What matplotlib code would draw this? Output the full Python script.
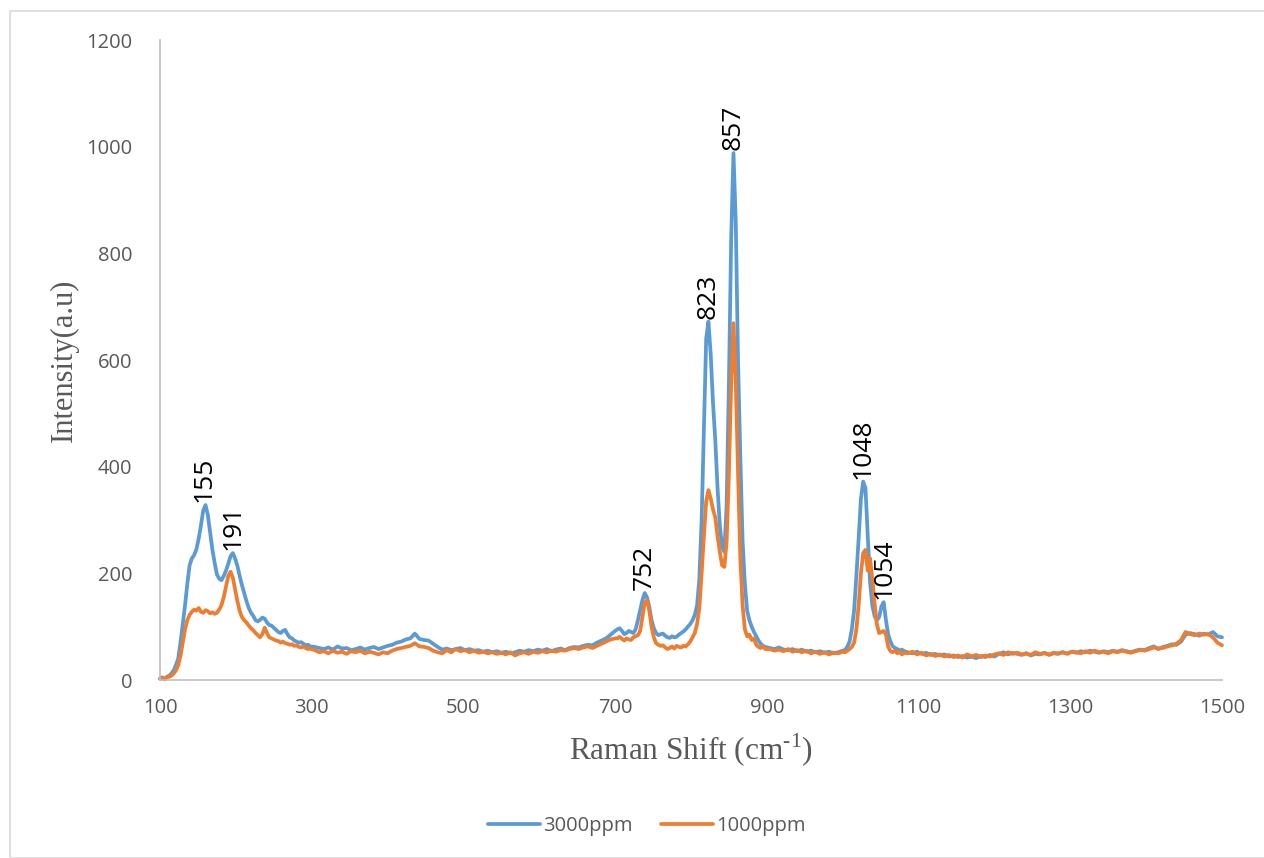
import numpy as np
import matplotlib
matplotlib.use("Agg")
import matplotlib.pyplot as plt
from matplotlib.patches import Rectangle

plt.rcParams["mathtext.fontset"] = "custom"
plt.rcParams["mathtext.rm"] = "Liberation Serif"

# Raman spectra of the two concentrations
# sampling grid: finer steps around the bands, coarser on the flat baseline
raman_shift = (list(range(100, 300, 3)) + list(range(304, 701, 6))
               + list(range(703, 899, 3)) + list(range(904, 1001, 6))
               + list(range(1003, 1082, 3)) + list(range(1086, 1501, 6)))

int_3000 = [
    # 100 - 298
    3, 5, 2, 6, 8, 12, 18, 28, 40, 70, 105, 140, 180, 215, 228, 234, 245, 265, 290, 318,
    328, 310, 278, 245, 220, 198, 190, 187, 195, 205, 218, 232, 238, 228, 214, 195, 178, 163, 148, 135,
    126, 120, 112, 110, 113, 117, 115, 108, 103, 102, 98, 94, 90, 88, 92, 94, 86, 80, 78, 74,
    72, 70, 71, 68, 65, 66, 63,
    # 304 - 700
    62, 60, 58, 61, 57, 63, 59, 60, 56, 58, 61, 57, 60, 62, 58, 61, 64, 66, 70, 72,
    76, 78, 87, 77, 75, 74, 68, 62, 57, 59, 56, 58, 60, 56, 58, 55, 56, 53, 55, 52,
    54, 51, 53, 50, 52, 55, 53, 56, 54, 57, 55, 58, 54, 57, 59, 56, 60, 62, 61, 64,
    66, 65, 70, 74, 78, 85, 92,
    # 703 - 898
    95, 97, 92, 86, 88, 92, 90, 88, 95, 112, 131, 150, 163, 155, 137, 112, 97, 88, 84, 86,
    87, 83, 80, 79, 82, 80, 81, 85, 88, 91, 95, 100, 105, 112, 122, 140, 190, 300, 470, 640,
    672, 610, 520, 450, 360, 290, 250, 240, 330, 560, 830, 988, 860, 600, 420, 260, 180, 130, 112, 100,
    90, 82, 74, 68, 64, 62,
    # 904 - 1000
    60, 58, 61, 57, 56, 58, 54, 57, 53, 55, 52, 54, 51, 53, 50, 52, 55,
    # 1003 - 1081
    56, 62, 72, 95, 130, 195, 265, 340, 372, 360, 270, 185, 140, 120, 112, 118, 138, 146, 112, 85,
    72, 63, 60, 58, 55, 57, 54,
    # 1086 - 1500
    52, 50, 53, 49, 51, 47, 49, 46, 48, 44, 46, 43, 45, 42, 44, 41, 45, 43, 47, 44,
    49, 52, 48, 51, 49, 47, 50, 46, 49, 48, 51, 47, 50, 49, 52, 50, 53, 51, 54, 52,
    55, 53, 51, 54, 52, 55, 53, 56, 54, 52, 55, 57, 56, 60, 63, 58, 62, 64, 67, 66,
    72, 85, 88, 86, 83, 87, 85, 90, 82, 80,
]

int_1000 = [
    # 100 - 298
    2, 4, 1, 5, 6, 8, 12, 18, 28, 45, 70, 95, 112, 122, 128, 132, 130, 135, 128, 126,
    131, 129, 125, 127, 124, 126, 132, 140, 155, 175, 195, 203, 192, 170, 148, 130, 118, 112, 108, 102,
    97, 93, 88, 84, 80, 86, 98, 88, 80, 78, 76, 74, 73, 70, 72, 69, 68, 66, 67, 64,
    65, 62, 61, 63, 60, 58, 59,
    # 304 - 700
    56, 52, 54, 50, 55, 51, 53, 49, 54, 52, 55, 50, 53, 51, 48, 52, 50, 55, 58, 60,
    62, 64, 69, 63, 62, 60, 55, 52, 50, 56, 52, 58, 54, 56, 52, 55, 51, 53, 50, 52,
    49, 51, 48, 52, 46, 50, 52, 49, 53, 51, 54, 52, 55, 53, 56, 55, 58, 60, 58, 61,
    63, 60, 64, 68, 72, 76, 78,
    # 703 - 898
    78, 81, 77, 74, 78, 76, 75, 80, 82, 84, 92, 118, 145, 150, 130, 100, 80, 69, 66, 64,
    65, 61, 58, 60, 63, 59, 64, 62, 61, 64, 63, 67, 72, 80, 88, 105, 135, 200, 270, 335,
    356, 340, 320, 305, 270, 240, 215, 212, 260, 390, 560, 669, 560, 390, 230, 140, 95, 82, 85, 75,
    78, 66, 62, 60, 63, 58,
    # 904 - 1000
    58, 55, 57, 54, 58, 53, 56, 52, 55, 50, 53, 49, 52, 48, 51, 50, 53,
    # 1003 - 1081
    52, 55, 58, 62, 70, 95, 140, 200, 238, 244, 205, 228, 190, 144, 105, 88, 90, 92, 85, 62,
    54, 52, 55, 50, 53, 48, 51,
    # 1086 - 1500
    50, 53, 48, 51, 46, 49, 45, 48, 44, 47, 43, 46, 42, 48, 44, 47, 43, 46, 44, 48,
    50, 47, 52, 49, 51, 48, 50, 47, 52, 49, 50, 48, 51, 50, 52, 49, 53, 52, 50, 54,
    51, 55, 52, 53, 50, 54, 52, 55, 53, 51, 54, 56, 55, 58, 61, 59, 60, 63, 65, 68,
    75, 90, 86, 84, 87, 85, 86, 80, 70, 65,
]

# band assignments written over the 3000ppm curve
peak_labels = ["155", "191", "752", "823", "857", "1048", "1054"]
peak_at = [158, 196, 739, 823, 856, 1027, 1054]

x_ticks = [100, 300, 500, 700, 900, 1100, 1300, 1500]
y_ticks = [0, 200, 400, 600, 800, 1000, 1200]

assert len(raman_shift) == len(int_3000) == len(int_1000)

blue = "#5B9BD5"
orange = "#ED7D31"
grey_txt = "#595959"
axis_grey = "#BFBFBF"

fig = plt.figure(figsize=(12.64, 8.58), dpi=100)
ax = fig.add_axes([160 / 1264, 1 - 680 / 858, (1222 - 160) / 1264, (680 - 40) / 858])

# light frame around the whole chart
fig.patches.append(Rectangle((10 / 1264, 0), 1.2, 1 - 11 / 858, transform=fig.transFigure,
                             fill=False, edgecolor="#D9D9D9", linewidth=1.2))

ax.plot(raman_shift, int_3000, color=blue, lw=2.7, label="3000ppm", clip_on=False,
        solid_joinstyle="round", solid_capstyle="round")
ax.plot(raman_shift, int_1000, color=orange, lw=2.7, label="1000ppm", clip_on=False,
        solid_joinstyle="round", solid_capstyle="round")

ax.set_xlim(100, 1500)
ax.set_ylim(0, 1200)
ax.set_xticks(x_ticks)
ax.set_yticks(y_ticks)
ax.tick_params(length=0, labelsize=14.5, labelcolor=grey_txt, labelfontfamily="Open Sans")
ax.tick_params(axis="y", pad=20)
ax.tick_params(axis="x", pad=13)

for side in ["top", "right"]:
    ax.spines[side].set_visible(False)
for side in ["left", "bottom"]:
    ax.spines[side].set_color(axis_grey)
    ax.spines[side].set_linewidth(1.2)

ax.set_ylabel("Intensity(a.u)", family="Liberation Serif", fontsize=22, color=grey_txt, labelpad=5)
ax.set_xlabel(r"Raman Shift (cm$^{\mathrm{\text{-}1}}$)", family="Liberation Serif", fontsize=22.5,
              color=grey_txt, labelpad=10)

shift_arr = np.array(raman_shift)
blue_arr = np.array(int_3000)
for lab, pos in zip(peak_labels, peak_at):
    near = np.abs(shift_arr - pos) <= 4
    top = blue_arr[near].max()
    ax.text(pos, top + 5, lab, rotation=90, ha="center", va="bottom",
            fontsize=19, family="Open Sans", color="black")

fig.legend(loc="center", bbox_to_anchor=(647 / 1264, 1 - 826 / 858), ncol=2, frameon=False,
           prop={"family": "Open Sans", "size": 14.5}, labelcolor=grey_txt,
           handlelength=2.6, handletextpad=0.15, columnspacing=1.4)

fig.savefig("out.png", dpi=100)
